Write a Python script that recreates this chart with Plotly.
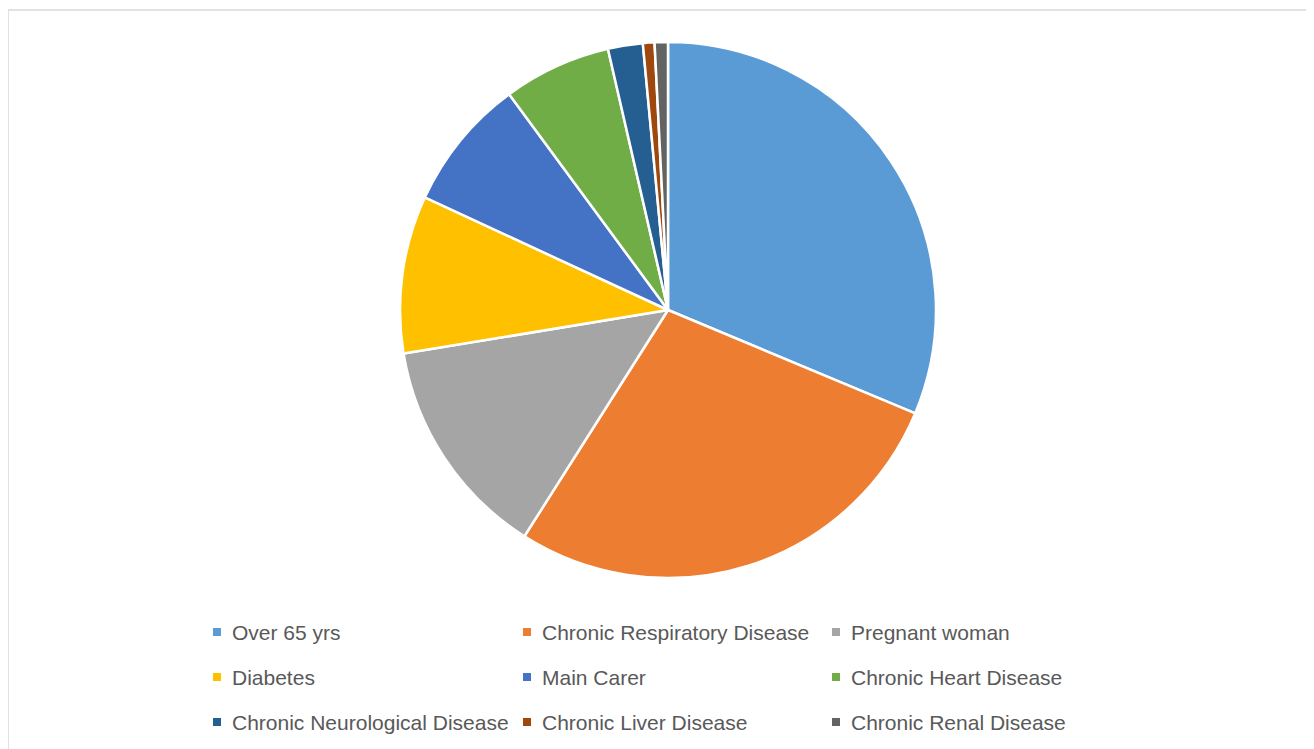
import plotly.graph_objects as go

labels = ["Over 65 yrs", "Chronic Respiratory Disease", "Pregnant woman",
          "Diabetes", "Main Carer", "Chronic Heart Disease",
          "Chronic Neurological Disease", "Chronic Liver Disease", "Chronic Renal Disease"]
values = [31.3, 27.7, 13.4, 9.5, 8.0, 6.5, 2.1, 0.7, 0.8]
colors = ["#5B9BD5", "#ED7D31", "#A5A5A5", "#FFC000", "#4472C4",
          "#70AD47", "#255E91", "#9E480E", "#636363"]

W, H = 1314, 749
OFF = 8  # page body margin in the browser

def px(x):
    return (x - OFF) / W

def py(y):
    return (H - (y - OFF)) / H

fig = go.Figure(go.Pie(
    labels=labels, values=values, sort=False, direction="clockwise", rotation=0,
    marker=dict(colors=colors, line=dict(color="white", width=2.5)),
    textinfo="none", showlegend=False,
    domain=dict(x=[px(400), px(936)], y=[py(578), py(42)]),
))

# legend drawn as a 3-column grid like the original
col_x = [213, 523, 832]
row_y = [632, 677, 722]
shapes = [dict(type="rect", xref="paper", yref="paper",
               x0=px(8), x1=1.01, y0=-0.01, y1=py(10),
               line=dict(color="#D9D9D9", width=1.5), fillcolor="rgba(0,0,0,0)")]
annotations = []
for i, (lab, col) in enumerate(zip(labels, colors)):
    x = col_x[i % 3]
    y = row_y[i // 3]
    shapes.append(dict(type="rect", xref="paper", yref="paper",
                       x0=px(x), x1=px(x + 8), y0=py(y + 4), y1=py(y - 4),
                       line=dict(width=0), fillcolor=col))
    annotations.append(dict(text=lab, xref="paper", yref="paper", x=px(x + 17),
                            y=py(y), xanchor="left", yanchor="middle",
                            showarrow=False, font=dict(size=21, color="#595959")))

fig.update_layout(
    width=W, height=H, margin=dict(l=0, r=0, t=0, b=0),
    paper_bgcolor="white", plot_bgcolor="white",
    font=dict(family="Liberation Sans, Arial, sans-serif"),
    shapes=shapes, annotations=annotations,
)

fig.write_html("out.html")
